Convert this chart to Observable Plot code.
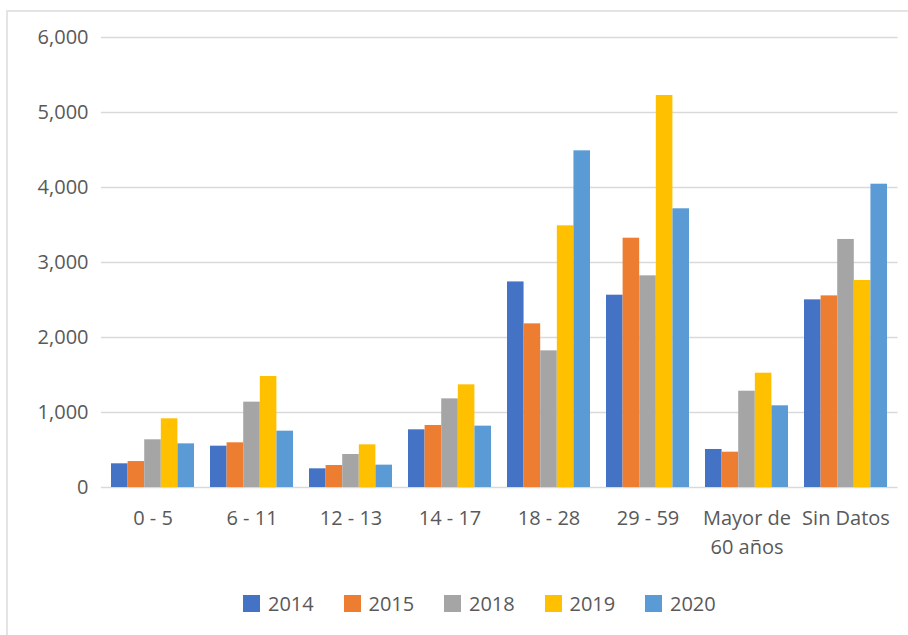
<!DOCTYPE html>
<html>
<head>
<meta charset="utf-8">
<script src="https://cdn.jsdelivr.net/npm/d3@7"></script>
<script src="https://cdn.jsdelivr.net/npm/@observablehq/plot@0.6"></script>
<style>
  html, body { margin: 0; padding: 0; background: #fff; }
  body { width: 908px; height: 635px; position: relative; overflow: hidden; font-family: "Open Sans", "Noto Sans", sans-serif; }
  #frame { position: absolute; left: 6px; top: 10px; width: 960px; height: 700px; border-left: 2px solid #e4e4e4; border-top: 2px solid #e4e4e4; }
  #chart { position: absolute; left: 0; top: 0; }
  #legend { position: absolute; left: 243px; top: 590px; display: flex; gap: 0; font-size: 20px; color: #595959; }
  .item { display: flex; align-items: center; width: 100.5px; }
  .sw { width: 17px; height: 17px; margin-right: 8px; flex: none; }
</style>
</head>
<body>
<div id="frame"></div>
<div id="chart"></div>
<div id="legend"></div>
<script>
const categories = ["0 - 5", "6 - 11", "12 - 13", "14 - 17", "18 - 28", "29 - 59", "Mayor de\n60 años", "Sin Datos"];
const years = ["2014", "2015", "2018", "2019", "2020"];
const colors = ["#4472C4", "#ED7D31", "#A5A5A5", "#FFC000", "#5B9BD5"];
const v2014 = [316, 551, 249, 769, 2741, 2564, 507, 2502];
const v2015 = [346, 596, 293, 827, 2182, 3324, 471, 2555];
const v2018 = [636, 1138, 440, 1182, 1822, 2822, 1284, 3307];
const v2019 = [916, 1480, 569, 1369, 3489, 5227, 1524, 2760];
const v2020 = [582, 751, 298, 818, 4489, 3716, 1089, 4044];
const yTicks = [0, 1000, 2000, 3000, 4000, 5000, 6000];

const series = [v2014, v2015, v2018, v2019, v2020];
const data = [];
years.forEach((yr, j) => categories.forEach((c, i) => data.push({category: c, year: yr, value: series[j][i]})));

const W = 908, H = 585, mL = 101, mR = 10.5, mT = 37, mB = H - 487;
const pInner = 0.166;
const bandwidth = (W - mL - mR) / categories.length * (1 - pInner);
const bw = bandwidth / years.length;

const barMarks = years.map((yr, j) => Plot.barY(data.filter(d => d.year === yr), {
  x: "category", y: "value", fill: colors[j],
  insetLeft: j * bw, insetRight: (years.length - 1 - j) * bw
}));

const chart = Plot.plot({
  width: W, height: H,
  marginLeft: mL, marginRight: mR, marginTop: mT, marginBottom: mB,
  style: {fontSize: "20px", fontFamily: "'Open Sans', 'Noto Sans', sans-serif", color: "#595959", background: "transparent"},
  x: {domain: categories, paddingInner: pInner, paddingOuter: pInner / 2},
  y: {domain: [0, 6000]},
  marks: [
    Plot.ruleY(yTicks, {stroke: "#d9d9d9", strokeWidth: 1.3}),
    ...barMarks,
    Plot.axisX({tickSize: 0, tickPadding: 17, lineHeight: 1.45, label: null, fontSize: 20}),
    Plot.axisY({ticks: yTicks, tickFormat: d3.format(","), tickSize: 0, tickPadding: 13, label: null, fontSize: 20})
  ]
});
document.getElementById("chart").appendChild(chart);

const legend = document.getElementById("legend");
years.forEach((yr, j) => {
  const it = document.createElement("div");
  it.className = "item";
  const sw = document.createElement("span");
  sw.className = "sw";
  sw.style.background = colors[j];
  const t = document.createElement("span");
  t.textContent = yr;
  it.appendChild(sw); it.appendChild(t);
  legend.appendChild(it);
});
</script>
</body>
</html>
